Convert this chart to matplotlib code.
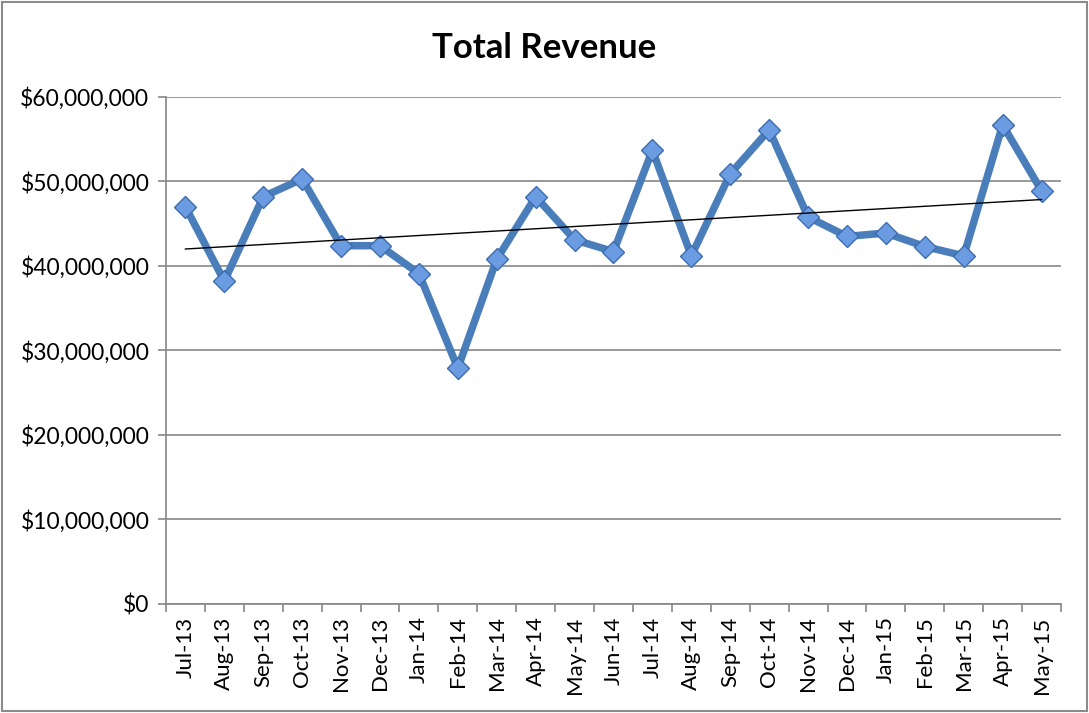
import numpy as np
import matplotlib.pyplot as plt
from matplotlib.ticker import FuncFormatter
from matplotlib.patches import Rectangle

months = ["Jul-13", "Aug-13", "Sep-13", "Oct-13", "Nov-13", "Dec-13", "Jan-14",
          "Feb-14", "Mar-14", "Apr-14", "May-14", "Jun-14", "Jul-14", "Aug-14",
          "Sep-14", "Oct-14", "Nov-14", "Dec-14", "Jan-15", "Feb-15", "Mar-15",
          "Apr-15", "May-15"]
revenue = [47.0, 38.2, 48.2, 50.3, 42.4, 42.4, 39.1, 27.9, 40.8, 48.2, 43.1,
           41.7, 53.7, 41.2, 50.9, 56.1, 45.8, 43.5, 43.9, 42.3, 41.2, 56.7, 48.9]
revenue = np.array(revenue) * 1e6

plt.rcParams['font.family'] = ['Lato', 'DejaVu Sans']

fig = plt.figure(figsize=(10.89, 7.13), dpi=100)
ax = fig.add_axes([0.1524, 0.1529, 0.8219, 0.7111])

x = np.arange(len(months))

# linear trend (least squares, like Excel's trendline)
k, b = np.polyfit(x, revenue, 1)
ax.plot(x, revenue, color='#4a7ebb', lw=5.4, zorder=3,
        marker='D', markersize=11, markerfacecolor='#6b9be0',
        markeredgecolor='#3d6cb0', markeredgewidth=1.0)
ax.plot([x[0], x[-1]], [k * x[0] + b, k * x[-1] + b], color='black', lw=1.0, zorder=4)

ax.set_xlim(-0.5, len(months) - 0.5)
ax.set_ylim(0, 60e6)
ax.set_yticks(np.arange(0, 60e6 + 1, 10e6))
ax.yaxis.set_major_formatter(FuncFormatter(lambda v, p: "${:,.0f}".format(v)))
ax.set_xticks(x)
ax.set_xticklabels(months, rotation=90, fontsize=16)
ax.set_xticks(np.arange(-0.5, len(months)), minor=True)
ax.tick_params(axis='x', which='major', length=0, pad=9)
ax.tick_params(axis='x', which='minor', length=6, color='#868686', width=1.2)
ax.tick_params(axis='y', length=6, color='#868686', width=1.2, labelsize=16.5, pad=6)

ax.grid(axis='y', color='#878787', lw=1.2)
ax.set_axisbelow(True)
for s in ['top', 'right']:
    ax.spines[s].set_visible(False)
for s in ['left', 'bottom']:
    ax.spines[s].set_color('#868686')
    ax.spines[s].set_linewidth(1.2)

fig.text(0.5, 0.932, "Total Revenue", ha='center', va='center',
         fontsize=25, fontweight='bold')

fig.patches.append(Rectangle((0.002, 0.003), 0.996, 0.994, transform=fig.transFigure,
                             fill=False, edgecolor='#8c8c8c', lw=1.5))

fig.savefig("out.png", dpi=100)
